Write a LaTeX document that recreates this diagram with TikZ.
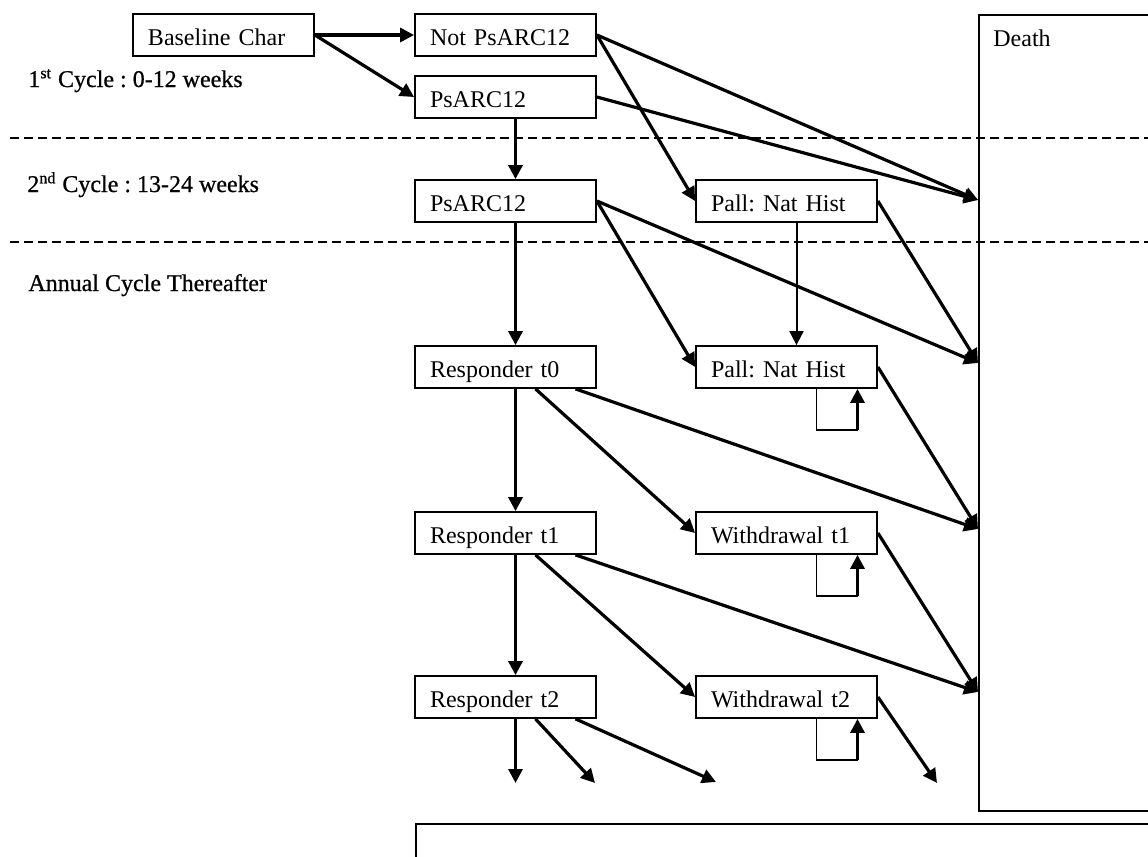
\documentclass[tikz,border=0pt]{standalone}
\usepackage{fontspec}
\setmainfont{Liberation Serif}
\newfontfamily\cycfont[FakeBold=0.7]{Liberation Serif}
\usetikzlibrary{arrows.meta}

\tikzset{
  statebox/.style={draw, line width=0.9pt, minimum width=90.5pt, minimum height=21pt,
    text width=75.5pt, text height=10pt, text depth=0pt, inner xsep=7.5pt, inner ysep=0pt, align=left},
  bigbox/.style={draw, line width=0.9pt, anchor=north west, inner sep=0pt},
  arr/.style={line width=1.6pt, -{Triangle[length=7pt,width=7pt]}},
  thinarr/.style={line width=1pt, -{Triangle[length=7pt,width=7pt]}},
  cycline/.style={line width=1.4pt, dash pattern=on 4.5pt off 2.5pt},
  cyclbl/.style={anchor=base west, inner sep=0pt, font=\fontsize{12}{14}\cycfont},
}

\begin{document}
\frenchspacing
\begin{tikzpicture}[x=0.5pt, y=-0.5pt, font=\fontsize{12}{14}\selectfont]
			%%%%% START %%%%%
			\useasboundingbox (0,0) rectangle (1148,857);
			\clip (0,0) rectangle (1148,857);
			
			% cycle separators and labels
			\draw[cycline] (10,138) -- (1148,138);
			\draw[cycline] (10,242) -- (1148,242);
			\node[cyclbl] (cyc1) at (28,87) {1\textsuperscript{st} Cycle : 0-12 weeks};
			\node[cyclbl] (cyc2) at (27,192) {2\textsuperscript{nd} Cycle : 13-24 weeks};
			\node[cyclbl] (cyc3) at (28,291) {Annual Cycle Thereafter};
			
			% absorbing states
			\node[bigbox, minimum width=130pt, minimum height=398pt] (death) at (978,14) {};
			\node[anchor=base west, inner sep=0pt] (deathlbl) at (993,46) {Death};
			\node[bigbox, minimum width=400pt, minimum height=40pt] (lower) at (415,823) {};
			
			\coordinate (d1) at (978,200);
			\coordinate (d2) at (978,363);
			\coordinate (d3) at (978,529);
			\coordinate (d4) at (978,692);
			
			% states
			\node[statebox] (base) at (223.5,35) {Baseline Char};
			\node[statebox] (notps) at (505.5,35) {Not PsARC12};
			\node[statebox] (ps1) at (505.5,97) {PsARC12};
			\node[statebox] (ps2) at (505.5,201) {PsARC12};
			\node[statebox] (pall1) at (786.5,201) {Pall: Nat Hist};
			\node[statebox] (resp0) at (505.5,367) {Responder t0};
			\node[statebox] (pall2) at (786.5,367) {Pall: Nat Hist};
			\node[statebox] (resp1) at (505.5,533) {Responder t1};
			\node[statebox] (wd1) at (786.5,533) {Withdrawal t1};
			\node[statebox] (resp2) at (505.5,697) {Responder t2};
			\node[statebox] (wd2) at (786.5,697) {Withdrawal t2};
			
			\coordinate (e1) at (515.5,783);
			\coordinate (e2) at (595,783);
			\coordinate (e3) at (716,782);
			\coordinate (e4) at (937,783);
			
			% 1st cycle
			\draw[arr] (base.east) -- (notps.west);
			\draw[arr] (base.east) -- (ps1.west);
			\draw[arr] (notps.east) -- (d1);
			\draw[arr] (notps.east) -- (pall1.west);
			\draw[arr] (ps1.east) -- (d1);
			\draw[arr] ([xshift=5pt]ps1.south) -- ([xshift=5pt]ps2.north);
			
			% 2nd cycle
			\draw[arr] (ps2.east) -- (d2);
			\draw[arr] (ps2.east) -- (pall2.west);
			\draw[arr] (pall1.east) -- (d2);
			\draw[thinarr] ([xshift=5pt]pall1.south) -- ([xshift=5pt]pall2.north);
			\draw[arr] ([xshift=5pt]ps2.south) -- ([xshift=5pt]resp0.north);
			
			% annual cycles
			\draw[arr] ([xshift=5pt]resp0.south) -- ([xshift=5pt]resp1.north);
			\draw[arr] ([xshift=15pt]resp0.south) -- (wd1.west);
			\draw[arr] ([xshift=35pt]resp0.south) -- (d3);
			\draw[arr] (pall2.east) -- (d3);
			
			\draw[arr] ([xshift=5pt]resp1.south) -- ([xshift=5pt]resp2.north);
			\draw[arr] ([xshift=15pt]resp1.south) -- (wd2.west);
			\draw[arr] ([xshift=35pt]resp1.south) -- (d4);
			\draw[arr] (wd1.east) -- (d4);
			
			\draw[arr] ([xshift=5pt]resp2.south) -- (e1);
			\draw[arr] ([xshift=15pt]resp2.south) -- (e2);
			\draw[arr] ([xshift=35pt]resp2.south) -- (e3);
			\draw[arr] (wd2.east) -- (e4);
			
			% staying in state
			\foreach \s in {pall2,wd1,wd2}{
				\draw[line width=0.9pt] ([xshift=15pt]\s.south) -- ++(0,41) -- ++(41,0);
				\draw[arr] ([xshift=35.5pt,yshift=-20.5pt]\s.south) -- ([xshift=35.5pt]\s.south);
			}
			
			%%%%% END %%%%%
\end{tikzpicture}
\end{document}
